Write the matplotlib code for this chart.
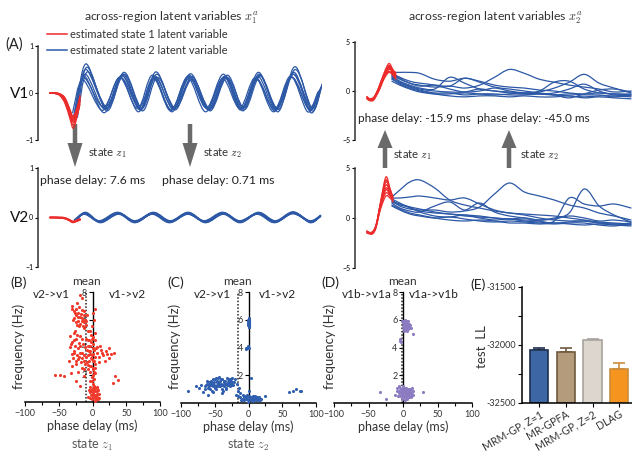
import matplotlib
matplotlib.use("Agg")
import matplotlib.pyplot as plt
from matplotlib.patches import FancyArrow, PathPatch
from matplotlib.path import Path
from matplotlib.ticker import MultipleLocator
from matplotlib.transforms import ScaledTranslation

plt.rcParams['font.family'] = ['Lato', 'DejaVu Sans']
plt.rcParams['mathtext.fontset'] = 'cm'

W, H = 632, 455

# ---------------- data: panel A (left, x1^a) ----------------
red_t_left = [0, 25, 50, 75, 100, 115, 130, 150]
red_v1 = [
    [0.00, 0.00, -0.03, -0.15, -0.42, -0.58, -0.45, -0.15],
    [0.00, -0.01, -0.05, -0.20, -0.50, -0.68, -0.50, -0.10],
    [0.00, 0.00, -0.02, -0.12, -0.38, -0.52, -0.40, -0.18],
    [0.00, -0.01, -0.04, -0.18, -0.46, -0.62, -0.55, -0.25],
    [0.00, 0.00, -0.03, -0.14, -0.40, -0.55, -0.42, -0.05],
    [0.00, -0.01, -0.06, -0.22, -0.55, -0.75, -0.60, -0.20],
    [0.00, 0.00, -0.02, -0.10, -0.35, -0.50, -0.38, -0.12],
    [0.00, -0.01, -0.04, -0.16, -0.44, -0.60, -0.48, -0.08],
]
blue_t_v1 = [125, 175, 275, 360, 450, 525, 615, 700, 790, 875, 960, 1040, 1130, 1215, 1300, 1350]
blue_v1 = [
    [-0.50, 0.40, -0.35, 0.38, -0.36, 0.36, -0.33, 0.33, -0.35, 0.36, -0.34, 0.35, -0.36, 0.40, -0.35, 0.08],
    [-0.45, 0.55, -0.38, 0.44, -0.32, 0.40, -0.36, 0.35, -0.38, 0.33, -0.31, 0.38, -0.40, 0.56, -0.38, 0.18],
    [-0.55, 0.32, -0.30, 0.34, -0.40, 0.30, -0.35, 0.36, -0.32, 0.40, -0.36, 0.31, -0.34, 0.34, -0.32, 0.04],
    [-0.40, 0.62, -0.33, 0.40, -0.34, 0.45, -0.31, 0.28, -0.36, 0.31, -0.38, 0.40, -0.31, 0.44, -0.42, 0.13],
    [-0.48, 0.36, -0.42, 0.32, -0.30, 0.34, -0.40, 0.38, -0.30, 0.34, -0.33, 0.28, -0.38, 0.33, -0.36, -0.05],
    [-0.52, 0.45, -0.32, 0.40, -0.38, 0.33, -0.32, 0.30, -0.34, 0.38, -0.35, 0.36, -0.35, 0.50, -0.33, 0.20],
    [-0.42, 0.28, -0.37, 0.33, -0.33, 0.38, -0.38, 0.33, -0.40, 0.30, -0.32, 0.33, -0.40, 0.36, -0.40, 0.00],
    [-0.46, 0.50, -0.28, 0.36, -0.36, 0.32, -0.34, 0.41, -0.33, 0.35, -0.30, 0.44, -0.33, 0.40, -0.30, 0.10],
]
trace_lag_ms = [0, 10, -8, 5, -5, 12, -12, 3]

red_v2 = [
    [0.00, 0.00, 0.00, -0.01, -0.06, -0.09, -0.07, -0.04],
    [0.00, 0.00, -0.01, -0.02, -0.07, -0.10, -0.08, -0.05],
    [0.00, 0.00, 0.00, -0.01, -0.05, -0.08, -0.06, -0.03],
    [0.00, 0.00, -0.01, -0.02, -0.06, -0.09, -0.07, -0.04],
]
blue_t_v2 = [125, 175, 250, 340, 425, 515, 600, 690, 775, 865, 950, 1040, 1125, 1215, 1300, 1350]
blue_v2 = [
    [-0.06, 0.08, -0.08, 0.09, -0.08, 0.08, -0.09, 0.08, -0.08, 0.09, -0.08, 0.08, -0.09, 0.10, -0.08, 0.02],
    [-0.07, 0.10, -0.09, 0.08, -0.09, 0.09, -0.08, 0.09, -0.09, 0.08, -0.09, 0.09, -0.08, 0.09, -0.09, 0.03],
    [-0.05, 0.07, -0.07, 0.10, -0.07, 0.07, -0.10, 0.07, -0.07, 0.10, -0.07, 0.07, -0.10, 0.08, -0.07, 0.01],
    [-0.06, 0.09, -0.10, 0.07, -0.08, 0.10, -0.07, 0.10, -0.10, 0.07, -0.10, 0.10, -0.07, 0.11, -0.10, 0.04],
    [-0.08, 0.08, -0.08, 0.09, -0.10, 0.08, -0.09, 0.08, -0.08, 0.09, -0.08, 0.08, -0.09, 0.09, -0.08, 0.02],
]

# ---------------- data: panel A (right, x2^a) ----------------
red_t_right = [0, 15, 35, 60, 85, 110, 130, 145]
red_x2_top = [
    [-0.7, -0.9, -0.8, 0.3, 1.6, 2.6, 2.0, 1.6],
    [-0.6, -0.8, -0.7, 0.4, 1.8, 2.8, 2.2, 1.8],
    [-0.8, -1.0, -0.9, 0.1, 1.3, 2.2, 1.9, 1.5],
    [-0.7, -0.9, -0.7, 0.2, 1.5, 2.4, 1.8, 1.4],
    [-0.6, -0.8, -0.6, 0.3, 1.4, 2.0, 1.7, 1.3],
    [-0.8, -0.9, -0.8, 0.0, 1.2, 1.9, 1.6, 1.2],
    [-0.7, -0.8, -0.7, 0.4, 1.7, 2.5, 2.1, 1.7],
    [-0.6, -0.9, -0.8, 0.2, 1.5, 2.3, 2.0, 1.9],
]
blue_t_right = [125, 165, 215, 265, 340, 415, 490, 565, 640, 715, 790, 865, 940, 1015, 1090, 1165, 1240, 1325]
blue_x2_top = [
    [1.9, 1.9, 1.9, 1.8, 1.2, 1.0, 1.3, 1.0, 0.6, 0.4, 0.3, 0.1, 0.0, -0.2, -0.3, -0.2, -0.3, -0.4],
    [1.6, 1.2, 0.8, 0.6, 0.4, 0.5, 0.3, 0.6, 1.4, 2.2, 1.8, 1.2, 0.9, 0.6, 0.4, 0.2, -0.1, 0.0],
    [1.5, 1.0, 0.6, 0.3, 0.2, 1.4, 0.8, 0.2, 0.0, -0.2, -0.3, -0.1, 0.3, 0.9, 1.7, 0.8, 0.3, -0.2],
    [1.7, 1.3, 0.8, 0.5, 0.6, 0.5, 1.3, 0.9, 0.4, 0.2, 0.0, -0.2, -0.4, -0.7, -0.3, 0.1, 0.2, -0.1],
    [1.2, 0.8, 0.4, 0.1, -0.2, -0.2, -0.4, -0.3, -0.3, -0.4, -0.4, -0.3, -0.4, -0.5, -0.6, -0.5, -0.5, -0.6],
    [1.4, 0.9, 0.5, 0.2, 0.0, -0.1, -0.1, 0.2, 0.0, -0.1, -0.2, 0.0, 0.9, 1.0, 0.2, -0.2, -0.3, -0.3],
    [1.3, 0.7, 0.3, 0.0, -0.3, -0.5, -0.6, -0.5, -0.5, -0.6, -0.5, -0.6, -0.6, -0.5, -0.7, -0.6, -0.7, -0.8],
    [1.8, 1.4, 1.0, 0.8, 0.6, 0.2, -0.1, 0.0, 0.3, 0.0, -0.2, -0.3, -0.2, 0.2, 0.7, 0.0, -0.4, -0.5],
    [1.0, 0.6, 0.2, -0.1, -0.3, -0.3, -0.2, -0.3, -0.4, -0.3, -0.2, -0.3, -0.4, -0.3, -0.4, -0.4, -0.6, -0.4],
]
red_t_right2 = [0, 25, 45, 70, 95, 115, 130]
red_x2_bot = [
    [-1.4, -1.5, -0.8, 1.5, 3.3, 2.6, 1.9],
    [-1.3, -1.6, -0.9, 1.8, 4.1, 3.0, 2.0],
    [-1.5, -1.5, -1.0, 1.2, 2.8, 2.3, 1.8],
    [-1.4, -1.4, -0.7, 1.6, 3.6, 2.8, 2.1],
    [-1.3, -1.5, -0.8, 1.0, 2.2, 2.0, 1.7],
    [-1.5, -1.6, -0.9, 1.4, 3.0, 2.4, 1.6],
    [-1.4, -1.5, -0.8, 1.3, 2.5, 2.2, 1.9],
    [-1.4, -1.5, -0.9, 1.7, 3.8, 2.9, 2.1],
]
blue_x2_bot = [
    [2.1, 2.8, 3.6, 3.8, 3.0, 1.8, 1.3, 1.0, 0.7, 0.5, 0.4, 0.3, 0.2, 0.0, -0.2, -0.4, -0.5, -0.6],
    [2.0, 2.0, 2.1, 2.2, 2.0, 1.8, 2.0, 1.4, 0.8, 0.5, 0.3, 0.0, -0.2, -0.3, -0.3, -0.5, -0.6, -0.5],
    [1.8, 1.2, 0.9, 0.8, 0.8, 0.6, 0.7, 1.1, 2.4, 3.5, 2.6, 2.2, 1.8, 1.3, 1.0, 0.5, 0.2, -0.2],
    [1.6, 1.3, 1.1, 0.9, 0.6, 0.4, 0.3, 0.2, 0.0, -0.1, -0.2, -0.2, 0.0, 0.5, 2.9, 1.2, 0.3, -0.4],
    [1.5, 1.0, 0.7, 0.6, 1.2, 1.6, 0.8, 1.5, 0.6, 0.2, 0.0, -0.3, -0.3, 2.0, 1.4, 1.2, 1.4, 1.0],
    [1.3, 0.9, 0.5, 0.3, 0.0, -0.2, -0.3, -0.2, -0.3, -0.5, -0.5, -0.6, -0.5, -0.6, -0.7, -0.6, -0.7, -0.8],
    [1.7, 1.4, 1.1, 0.6, 0.2, 0.1, 0.3, 0.0, -0.2, -0.1, -0.3, -0.4, -0.5, -0.4, -0.3, -0.5, -0.6, -0.7],
    [1.2, 0.8, 0.4, 0.2, 0.0, 0.1, -0.1, -0.3, -0.4, -0.3, -0.4, -0.5, -0.6, -0.5, -0.5, -0.7, -0.8, -0.6],
    [1.9, 1.5, 1.0, 0.7, 0.5, 0.4, 0.2, 0.1, 0.0, -0.1, 0.0, -0.2, -0.1, 0.2, 0.0, -0.3, -0.2, -0.4],
]

# ---------------- data: panel B ----------------
b_pts = [
    (-30, 7.0), (-28, 6.6), (-25, 6.8), (-22, 6.5), (-20, 6.9), (-18, 6.2), (-15, 6.1), (-13, 5.8), (-16, 5.9),
    (-12, 6.3), (-24, 6.3), (-27, 6.1), (-19, 5.7), (-14, 5.5), (-11, 6.0), (-21, 5.9), (-17, 6.4), (-23, 7.2),
    (-31, 6.8), (-10, 5.6), (-13, 6.6), (-25, 5.8), (-8, 6.3), (-15, 7.6), (-18, 7.8),
    (-29, 6.0), (-26, 6.5), (-21, 6.2), (-16, 6.7), (-14, 6.0), (-12, 5.4), (-20, 5.5), (-23, 5.6), (-9, 5.9),
    (-7, 5.2), (0, 6.5), (2, 6.0), (3, 6.8), (-1, 5.5),
    (-33, 4.8), (-30, 4.4), (-28, 5.0), (-26, 4.1), (-24, 4.6), (-22, 3.9), (-20, 4.3), (-18, 4.8), (-16, 3.6),
    (-14, 4.2), (-12, 3.4), (-10, 4.6), (-8, 3.8), (-6, 4.1), (-4, 3.5), (-2, 4.4), (0, 3.9), (-31, 3.5),
    (-29, 3.2), (-27, 3.7), (-25, 3.0), (-23, 3.4), (-21, 3.1), (-19, 3.6), (-17, 2.9), (-15, 3.2), (-13, 3.0),
    (-11, 2.8), (-9, 3.3), (-7, 2.7), (-5, 3.0), (-3, 2.6), (-1, 3.1), (1, 3.5), (-26, 5.2), (-34, 4.0),
    (-32, 4.2), (-27, 4.5), (-23, 4.9), (-19, 4.1), (-15, 4.6), (-11, 4.0), (-7, 4.5), (-5, 3.7), (-3, 4.1),
    (-1, 3.4), (-28, 3.6), (-24, 2.8), (-20, 3.3), (-16, 2.5), (-12, 2.4), (-8, 2.9), (-6, 3.4), (-2, 3.2),
    (2, 3.0), (4, 2.5), (-22, 2.2), (-35, 3.0), (-30, 2.6),
    (-4, 5.2), (-2, 4.9), (1, 4.7), (3, 4.5), (0, 4.2), (-3, 3.7), (2, 3.8), (4, 3.3), (0, 3.0), (-2, 2.6),
    (1, 2.4), (3, 2.8), (-4, 2.2), (0, 2.0), (2, 1.7), (-3, 1.5), (1, 1.3), (4, 2.1), (-1, 1.8), (5, 3.9),
    (-5, 4.5), (3, 5.0), (-1, 4.6), (6, 4.0), (-6, 2.4), (0, 2.5), (2, 2.2), (-1, 1.5),
    (7, 3.6), (10, 3.3), (13, 3.8), (16, 3.4), (20, 3.7), (24, 3.2), (28, 3.5), (32, 3.6), (11, 4.1), (18, 3.0),
    (25, 3.9), (9, 2.9), (14, 3.6), (22, 3.5),
    (-55, 2.0), (-48, 2.0), (-42, 1.9), (-32, 2.1), (-25, 1.5), (-18, 1.2), (33, 1.9), (38, 1.6), (30, 1.4), (-12, 1.9),
    (-3, 1.1), (0, 0.9), (2, 1.2), (4, 0.8), (6, 0.6), (8, 0.9), (-2, 0.5), (1, 0.3), (3, 0.5), (5, 0.2),
    (7, 0.4), (-4, 0.7), (0, 0.6), (2, 0.8), (9, 0.6), (-1, 0.2), (4, 1.0), (6, 1.1), (-6, 0.4), (10, 0.3),
    (3, 0.1), (1, 0.7), (-3, 0.3), (5, 0.5), (8, 0.2), (1, 1.0), (-2, 0.9), (3, 0.4), (6, 0.8), (-5, 0.9),
    (7, 1.0), (0, 0.4),
]
b_mean = -9

# ---------------- data: panel C ----------------
c_pts = [
    (-65, 1.2), (-62, 1.4), (-60, 1.1), (-58, 1.5), (-56, 1.3), (-55, 1.6), (-53, 1.2), (-52, 1.4), (-50, 1.7),
    (-49, 1.1), (-47, 1.5), (-46, 1.3), (-45, 1.8), (-44, 1.2), (-42, 1.6), (-41, 1.4), (-40, 1.0), (-39, 1.7),
    (-38, 1.3), (-37, 1.5), (-36, 1.2), (-35, 1.6), (-34, 1.4), (-33, 1.1), (-32, 1.8), (-31, 1.5), (-30, 1.3),
    (-29, 1.6), (-28, 1.2), (-27, 1.7), (-26, 1.4), (-25, 1.5), (-24, 1.8), (-57, 1.0), (-61, 1.6), (-54, 0.9),
    (-48, 1.0), (-43, 1.9), (-51, 1.5), (-59, 1.3), (-22, 1.5), (-20, 1.7), (-38, 0.9), (-64, 1.0), (-46, 1.6),
    (-34, 1.0), (-30, 1.7), (-42, 1.2), (-53, 1.7), (-48, 1.8),
    (-63, 1.3), (-58, 1.2), (-55, 1.4), (-51, 1.3), (-47, 1.2), (-44, 1.5), (-40, 1.3), (-37, 1.6), (-33, 1.4),
    (-29, 1.4), (-26, 1.6), (-23, 1.3), (-56, 1.5), (-50, 1.2), (-45, 1.4), (-41, 1.7), (-36, 1.4), (-32, 1.3),
    (-28, 1.5), (-24, 1.3),
    (-90, 0.9), (-78, 1.2), (-73, 1.1), (-70, 1.3), (-68, 0.8), (-60, 0.6), (-52, 0.8), (-40, 0.7),
    (0, 5.5), (0, 5.6), (0, 5.7), (0, 5.8), (0, 5.9), (0, 6.0), (0, 6.1), (-1, 5.6), (1, 5.8), (-1, 5.9),
    (1, 6.0), (0, 5.65), (0, 5.75), (0, 5.85), (0, 5.95), (-1, 5.7), (1, 5.5),
    (0, 5.52), (0, 5.62), (0, 5.72), (0, 5.82), (0, 5.92), (0, 6.02), (-1, 5.8), (1, 5.65), (1, 5.9), (-1, 6.0),
    (-3, 4.0), (-2, 4.0), (-1, 4.1), (0, 4.0), (-4, 3.9),
    (-15, 0.5), (-12, 0.4), (-10, 0.3), (-8, 0.6), (-6, 0.2), (-4, 0.4), (-2, 0.3), (0, 0.5), (2, 0.2), (4, 0.4),
    (6, 0.3), (8, 0.2), (10, 0.4), (12, 0.3), (14, 0.2), (16, 0.4), (18, 0.3), (-9, 0.2), (-5, 0.5), (-1, 0.1),
    (3, 0.3), (7, 0.5), (11, 0.2), (15, 0.3), (-13, 0.7), (-16, 0.9), (-14, 1.1), (-17, 1.4), (1, 0.4), (5, 0.2),
    (9, 0.3), (25, 0.5), (-3, 0.3), (1, 0.2), (5, 0.4), (9, 0.5), (13, 0.4), (-7, 0.4), (-11, 0.2), (17, 0.2),
    (6, 0.15), (-2, 0.55),
    (3, 1.8), (0, 0.9), (-18, 0.6), (60, 0.8), (66, 0.9), (70, 1.0), (76, 0.9), (78, 0.85),
]
c_mean = -16

# ---------------- data: panel D ----------------
d_pts = [
    (0, 5.8), (2, 5.6), (4, 5.9), (6, 5.5), (8, 5.7), (1, 5.3), (3, 5.4), (5, 5.7), (7, 5.9), (9, 5.5), (0, 5.5),
    (2, 5.9), (4, 5.3), (6, 5.8), (8, 5.4), (3, 6.0), (5, 5.6), (1, 5.7), (7, 5.3), (10, 5.6), (-1, 5.9),
    (4, 5.5), (6, 5.2), (12, 5.4), (2, 5.2), (1, 5.9), (3, 5.6), (5, 5.4), (7, 5.6), (2, 5.4), (4, 5.7),
    (6, 5.4), (8, 5.6), (3, 5.8), (5, 5.9),
    (-5, 4.6), (-4, 4.5), (-3, 4.4), (14, 5.0),
    (-8, 0.9), (-6, 0.7), (-5, 1.1), (-4, 0.5), (-3, 0.9), (-2, 0.6), (-1, 1.0), (0, 0.4), (1, 0.8), (2, 0.6),
    (3, 1.1), (4, 0.5), (5, 0.9), (6, 0.3), (7, 0.7), (8, 1.0), (9, 0.5), (10, 0.8), (11, 0.4), (12, 0.7),
    (13, 1.1), (14, 0.6), (15, 0.9), (-7, 0.5), (-5, 0.8), (-2, 0.3), (0, 0.7), (2, 1.0), (4, 0.8), (6, 0.6),
    (8, 0.4), (3, 0.2), (1, 0.5), (5, 0.7), (7, 0.4), (9, 0.9), (-3, 0.7), (0, 1.2), (11, 1.0), (-6, 1.2),
    (-9, 1.1), (4, 1.0), (6, 0.9), (2, 0.4), (10, 0.6), (-4, 0.8), (-1, 0.6), (1, 0.9), (3, 0.7), (5, 0.4),
    (7, 0.9), (9, 0.7), (11, 0.6), (13, 0.8), (0, 0.9), (2, 0.8), (4, 0.6), (6, 1.0), (8, 0.7), (-2, 0.8),
    (10, 1.0), (12, 0.5), (-6, 0.9), (3, 0.9), (5, 1.1),
    (-33, 0.8), (-25, 0.3), (29, 0.8), (-12, 0.6),
]
d_mean = -1

# ---------------- data: panel E ----------------
models = ["MRM-GP, Z=1", "MR-GPFA", "MRM-GP, Z=2", "DLAG"]
test_ll = [-32043, -32060, -31955, -32207]
test_ll_err = [17, 35, 8, 50]
bar_fill = ["#3d66a5", "#b49b7c", "#ddd6ce", "#f5941f"]
bar_edge = ["#1f2f4d", "#6e5a3f", "#a9a39d", "#c98c3c"]

RED = "#ec2b2b"
BLUE = "#2c58a6"
TXT = "#333333"

fig = plt.figure(figsize=(W / 100, H / 100), dpi=100)


def px_axes(l, t, r, b):
    return fig.add_axes([l / W, 1 - b / H, (r - l) / W, (b - t) / H])


def smooth_line(ax, xs, ys, **kw):
    """Draw a line through the given data points with smooth (Bezier) joins."""
    n = len(xs)
    verts = [(xs[0], ys[0])]
    codes = [Path.MOVETO]
    for i in range(n - 1):
        i0, i3 = max(i - 1, 0), min(i + 2, n - 1)
        c1 = (xs[i] + (xs[i + 1] - xs[i0]) / 6, ys[i] + (ys[i + 1] - ys[i0]) / 6)
        c2 = (xs[i + 1] - (xs[i3] - xs[i]) / 6, ys[i + 1] - (ys[i3] - ys[i]) / 6)
        verts += [c1, c2, (xs[i + 1], ys[i + 1])]
        codes += [Path.CURVE4] * 3
    ax.add_patch(PathPatch(Path(verts, codes), fill=False, capstyle="round", joinstyle="round", **kw))


ov = fig.add_axes([0, 0, 1, 1])
ov.set_xlim(0, W)
ov.set_ylim(H, 0)
ov.axis("off")


def style_trace_ax(ax, xlim, ylim, ticks, ticklabels):
    for s in ["top", "right", "bottom"]:
        ax.spines[s].set_visible(False)
    ax.spines["left"].set_linewidth(1.1)
    ax.spines["left"].set_color("#333333")
    ax.set_xlim(*xlim)
    ax.set_ylim(*ylim)
    ax.set_xticks([])
    ax.set_yticks(ticks)
    ax.set_yticklabels(ticklabels)
    ax.tick_params(axis="y", length=2, width=0.8, labelsize=5, pad=1.5)
    ax.patch.set_alpha(0)


# left top V1
ax1 = px_axes(38, 46, 322, 140)
for i, tr in enumerate(blue_v1):
    smooth_line(ax1, [t + trace_lag_ms[i] for t in blue_t_v1], tr, color=BLUE, lw=0.9)
for tr in red_v1:
    smooth_line(ax1, red_t_left, tr, color=RED, lw=0.9)
style_trace_ax(ax1, (-60, 1360), (-1, 1), [-1, 0, 1], ["\u22121", "0", "1"])

# left bottom V2
ax2 = px_axes(38, 168, 322, 267)
for i, tr in enumerate(blue_v2):
    smooth_line(ax2, [t + trace_lag_ms[i] * 0.3 for t in blue_t_v2], tr, color=BLUE, lw=1.3)
for tr in red_v2:
    smooth_line(ax2, red_t_left, tr, color=RED, lw=1.2)
style_trace_ax(ax2, (-60, 1360), (-1, 1), [-1, 0, 1], ["\u22121", "0", "1"])

# right top
ax3 = px_axes(355, 42, 632, 140)
for tr in blue_x2_top:
    smooth_line(ax3, blue_t_right, tr, color=BLUE, lw=0.9)
for tr in red_x2_top:
    smooth_line(ax3, red_t_right, tr, color=RED, lw=0.9)
style_trace_ax(ax3, (-60, 1330), (-5, 5), [-5, 0, 5], ["\u22125", "0", "5"])

# right bottom
ax4 = px_axes(355, 168, 632, 268)
for tr in blue_x2_bot:
    smooth_line(ax4, blue_t_right, tr, color=BLUE, lw=0.9)
for tr in red_x2_bot:
    smooth_line(ax4, red_t_right2, tr, color=RED, lw=0.9)
style_trace_ax(ax4, (-60, 1330), (-5, 5), [-5, 0, 5], ["\u22125", "0", "5"])

# titles, legend, labels
ov.text(171, 18, r"across-region latent variables $x_1^a$", ha="center", va="center", fontsize=8.8, color=TXT)
ov.text(495, 18, r"across-region latent variables $x_2^a$", ha="center", va="center", fontsize=8.8, color=TXT)
ov.plot([47, 67], [34, 34], color=RED, lw=1.1)
ov.plot([47, 67], [50, 50], color=BLUE, lw=1.1)
ov.text(70, 34, "estimated state 1 latent variable", ha="left", va="center", fontsize=8.0, color=TXT)
ov.text(70, 50, "estimated state 2 latent variable", ha="left", va="center", fontsize=8.0, color=TXT)
ov.text(5, 45, "(A)", ha="left", va="center", fontsize=10.5, color="#222222")
ov.text(10, 94, "V1", ha="left", va="center", fontsize=11, color="#111111")
ov.text(10, 218, "V2", ha="left", va="center", fontsize=11, color="#111111")

GRAY = "#6a6a6a"
for x in [75, 190]:
    ov.add_patch(FancyArrow(x, 124, 0, 43, width=4.5, head_width=15, head_length=24,
                            length_includes_head=True, color=GRAY, lw=0))
for x in [385, 509]:
    ov.add_patch(FancyArrow(x, 168, 0, -38, width=4.5, head_width=15, head_length=18,
                            length_includes_head=True, color=GRAY, lw=0))
ov.text(88, 153, r"state $z_1$", ha="left", va="center", fontsize=8.3, color=TXT)
ov.text(203, 153, r"state $z_2$", ha="left", va="center", fontsize=8.3, color=TXT)
ov.text(393, 155, r"state $z_1$", ha="left", va="center", fontsize=8.3, color=TXT)
ov.text(520, 155, r"state $z_2$", ha="left", va="center", fontsize=8.3, color=TXT)
ov.text(40, 180, "phase delay: 7.6 ms", ha="left", va="center", fontsize=8.8, color="#222222")
ov.text(162, 180, "phase delay: 0.71 ms", ha="left", va="center", fontsize=8.8, color="#222222")
ov.text(358, 118, "phase delay: -15.9 ms", ha="left", va="center", fontsize=8.5, color="#222222")
ov.text(477, 118, "phase delay: -45.0 ms", ha="left", va="center", fontsize=8.5, color="#222222")


# scatter panels
def scatter_panel(box, pts, color, mean, left_lbl, right_lbl, left_x, right_x, letter, letter_px, ylab_px):
    ax = px_axes(*box)
    ax.scatter([p[0] for p in pts], [p[1] for p in pts], s=5, color=color, lw=0, zorder=3)
    ax.set_xlim(-100, 100)
    ax.set_ylim(0, 8)
    ax.spines["top"].set_visible(False)
    ax.spines["right"].set_visible(False)
    ax.spines["left"].set_position(("data", 0))
    ax.spines["left"].set_linewidth(1.0)
    ax.spines["bottom"].set_linewidth(1.1)
    ax.set_xticks([-100, -50, 0, 50, 100])
    ax.xaxis.set_minor_locator(MultipleLocator(25))
    ax.set_yticks([2, 4, 6, 8])
    ax.tick_params(axis="x", which="major", length=3, width=0.8, labelsize=6.5, pad=2, labelcolor=TXT)
    ax.tick_params(axis="x", which="minor", length=2.5, width=0.8)
    ax.tick_params(axis="y", which="major", length=3, width=0.8, labelsize=6.5, pad=1, labelcolor=TXT)
    ax.axvline(mean, ymin=0, ymax=1, color="#222222", ls=(0, (1, 1.2)), lw=1.1, zorder=2)
    ax.text(mean, 8.75, "mean", ha="center", va="center", fontsize=8.6, color=TXT, clip_on=False)
    ax.text(left_x, 7.8, left_lbl, ha="center", va="center", fontsize=8.5, color="#222222")
    ax.text(right_x, 7.8, right_lbl, ha="center", va="center", fontsize=8.5, color="#222222")
    ax.set_xlabel("phase delay (ms)", fontsize=9, color=TXT, labelpad=1)
    ax.patch.set_alpha(0)
    ov.text(letter_px[0], letter_px[1], letter, ha="center", va="center", fontsize=10, color="#222222")
    ov.text(ylab_px[0], ylab_px[1], "frequency (Hz)", ha="center", va="center", rotation=90,
            fontsize=9.5, color=TXT)
    return ax


scatter_panel((25, 292, 160, 402), b_pts, "#f03a2c", b_mean, "v2->v1", "v1->v2", -61, 52,
              "(B)", (19, 283), (19, 346))
scatter_panel((181, 292, 316, 403), c_pts, "#2f5fae", c_mean, "v2->v1", "v1->v2", -53, 43,
              "(C)", (176, 283), (175, 346))
scatter_panel((334, 292, 472, 403), d_pts, "#8d7bc2", d_mean, "v1b->v1a", "v1a->v1b", -53, 44,
              "(D)", (330, 283), (330, 346))
ov.text(92, 445, r"state $z_1$", ha="center", va="center", fontsize=9, color="#555555")
ov.text(248, 445, r"state $z_2$", ha="center", va="center", fontsize=9, color="#555555")

# bar panel E
axE = px_axes(522, 287, 634, 403)
xs = list(range(len(models)))
base = -32500
axE.bar(xs, [v - base for v in test_ll], bottom=base, width=0.68, color=bar_fill,
        edgecolor=bar_edge, linewidth=1.2, zorder=2)
for x, v, e, c in zip(xs, test_ll, test_ll_err, bar_edge):
    axE.errorbar([x], [v], yerr=[[0], [e]], fmt="none", ecolor=c, elinewidth=1.2, capsize=4, capthick=1.2, zorder=1)
axE.set_xlim(-0.64, 3.55)
axE.set_ylim(-32500, -31500)
axE.set_yticks([-32500, -32250, -32000, -31750, -31500])
axE.set_yticklabels(["-32500", "", "-32000", "", "-31500"])
axE.set_xticks(xs)
axE.set_xticklabels(models, rotation=30, ha="right", rotation_mode="anchor", fontsize=7.6, color=TXT)
shift = ScaledTranslation(8 / 72, 0, fig.dpi_scale_trans)
for lbl in axE.get_xticklabels():
    lbl.set_transform(lbl.get_transform() + shift)
axE.tick_params(axis="y", length=3, width=0.8, labelsize=6.5, pad=1.5, labelcolor=TXT)
axE.tick_params(axis="x", length=3, width=0.8, pad=1)
for s in ["top", "right"]:
    axE.spines[s].set_visible(False)
axE.spines["left"].set_linewidth(1.1)
axE.spines["bottom"].set_linewidth(1.1)
axE.patch.set_alpha(0)
ov.text(478, 285, "(E)", ha="center", va="center", fontsize=10, color="#222222")
ov.text(482, 347, "test  LL", ha="center", va="center", rotation=90, fontsize=9.5, color=TXT)

fig.savefig("out.png", dpi=100)
